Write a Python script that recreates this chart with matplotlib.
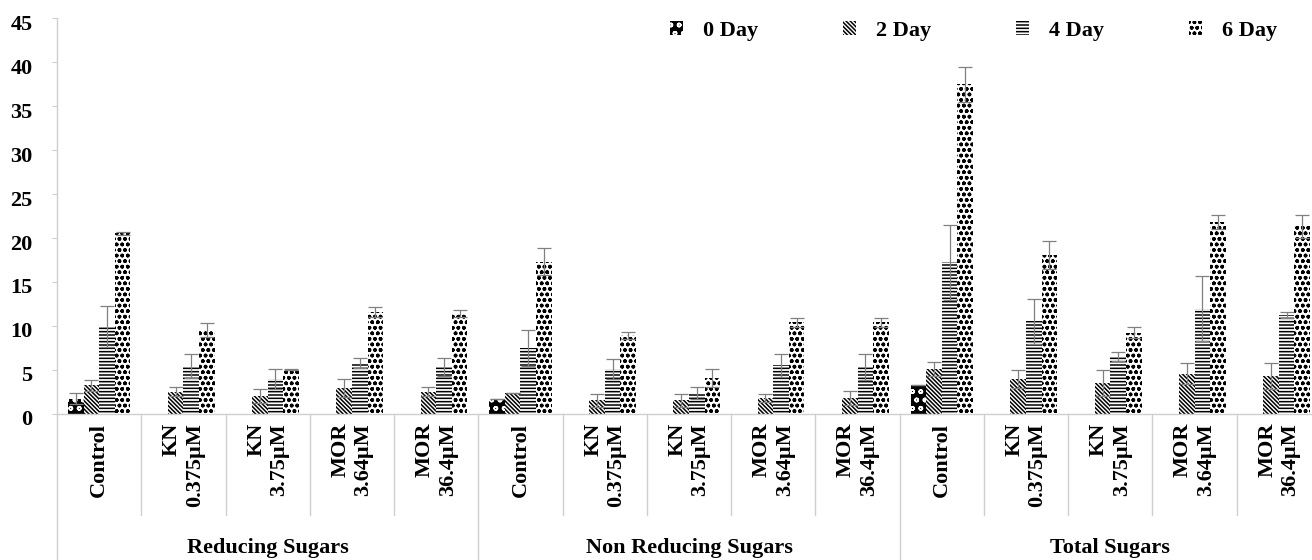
import numpy as np
import matplotlib
matplotlib.use("Agg")
import matplotlib.pyplot as plt
from matplotlib.patches import Patch
from matplotlib.transforms import ScaledTranslation

plt.rcParams["font.family"] = ["Liberation Serif", "DejaVu Serif"]
plt.rcParams["font.weight"] = "bold"
plt.rcParams["hatch.linewidth"] = 1.1

groups = ["Reducing Sugars", "Non Reducing Sugars", "Total Sugars"]
treatments = ["Control", "KN\n0.375µM", "KN\n3.75µM", "MOR\n3.64µM", "MOR\n36.4µM"]
days = ["0 Day", "2 Day", "4 Day", "6 Day"]

nan = np.nan
# values per group, in treatment order (reducing, non reducing, total)
day0 = [1.7, nan, nan, nan, nan, 1.6, nan, nan, nan, nan, 3.2, nan, nan, nan, nan]
day0_err = [0.6, nan, nan, nan, nan, 0.0, nan, nan, nan, nan, 0.0, nan, nan, nan, nan]

day2 = [3.2, 2.5, 2.0, 2.9, 2.5, 2.3, 1.5, 1.5, 1.8, 1.8, 5.1, 3.9, 3.5, 4.55, 4.25]
day2_err = [0.6, 0.5, 0.75, 1.0, 0.5, 0.0, 0.75, 0.75, 0.45, 0.8, 0.8, 1.05, 1.5, 1.2, 1.5]

day4 = [9.9, 5.4, 3.9, 5.75, 5.3, 7.5, 5.1, 2.35, 5.5, 5.3, 17.2, 10.5, 6.5, 11.95, 11.2]
day4_err = [2.35, 1.4, 1.15, 0.55, 1.0, 2.05, 1.15, 0.65, 1.3, 1.5, 4.3, 2.55, 0.55, 3.75, 0.35]

day6 = [20.5, 9.55, 5.0, 11.55, 11.4, 17.3, 8.9, 4.05, 10.4, 10.4, 37.5, 18.0, 9.2, 21.8, 21.3]
day6_err = [0.15, 0.8, 0.1, 0.55, 0.4, 1.55, 0.4, 1.05, 0.5, 0.5, 2.0, 1.6, 0.6, 0.8, 1.3]

values = [day0, day2, day4, day6]
errors = [day0_err, day2_err, day4_err, day6_err]

# fill / hatch style for each day
styles = [
    dict(facecolor="black", edgecolor="white", hatch="oo"),
    dict(facecolor="white", edgecolor="black", hatch="\\" * 8),
    dict(facecolor="white", edgecolor="black", hatch="-----"),
    dict(facecolor="white", edgecolor="black", hatch="ooo"),
]

fig = plt.figure(figsize=(13.12, 5.6), dpi=100)
ax = fig.add_axes([57 / 1312, 1 - 413.5 / 560, 1264 / 1312, 395.2 / 560])

n = len(groups) * len(treatments)
x = np.arange(n)
w = 0.185
for i in range(4):
    xi = x + (i - 1.5) * w
    ax.bar(xi, values[i], w, linewidth=0, zorder=2, **styles[i])
    ax.errorbar(xi, values[i], yerr=errors[i], fmt="none", ecolor="#808080",
                elinewidth=0.9, capsize=5, capthick=0.9, zorder=3)

ax.set_xlim(-0.5, n - 0.5)
ax.set_ylim(0, 45)
ax.set_yticks(np.arange(0, 46, 5))
ax.tick_params(axis="y", length=3.6, width=0.8, color="#cfcfcf", pad=14,
               labelsize=16)
shift = ScaledTranslation(0, -3 / 72, fig.dpi_scale_trans)
for lab in ax.get_yticklabels():
    lab.set_transform(lab.get_transform() + shift)
ax.set_xticks([])
for side in ["top", "right"]:
    ax.spines[side].set_visible(False)
for side in ["left", "bottom"]:
    ax.spines[side].set_color("#cfcfcf")
    ax.spines[side].set_linewidth(1.0)

# category labels and separators below the axis
tr = ax.get_xaxis_transform()
labels = treatments * len(groups)
for k in range(n):
    ax.text(k, -0.024, labels[k], transform=tr, rotation=90, ha="center",
            va="top", multialignment="right", fontsize=16, fontweight="bold",
            linespacing=1.2)
for k in range(n + 1):
    bottom = -0.38 if k % len(treatments) == 0 else -0.257
    ax.plot([k - 0.5, k - 0.5], [0, bottom], transform=tr, color="#cfcfcf",
            lw=1.0, clip_on=False)
for g, name in enumerate(groups):
    cx = g * len(treatments) + (len(treatments) - 1) / 2
    ax.text(cx, -0.34, name, transform=tr, ha="center", va="center",
            fontsize=16, fontweight="bold")

handles = [Patch(linewidth=0, **s) for s in styles]
ax.legend(handles, days, loc="center left", bbox_to_anchor=(670 / 1312, 1 - 31 / 560),
          bbox_transform=fig.transFigure, ncol=4, frameon=False, fontsize=16,
          handlelength=0.6, handleheight=0.6, handletextpad=0.9,
          columnspacing=3.8, borderaxespad=0, borderpad=0)

fig.savefig("out.png", dpi=100)
